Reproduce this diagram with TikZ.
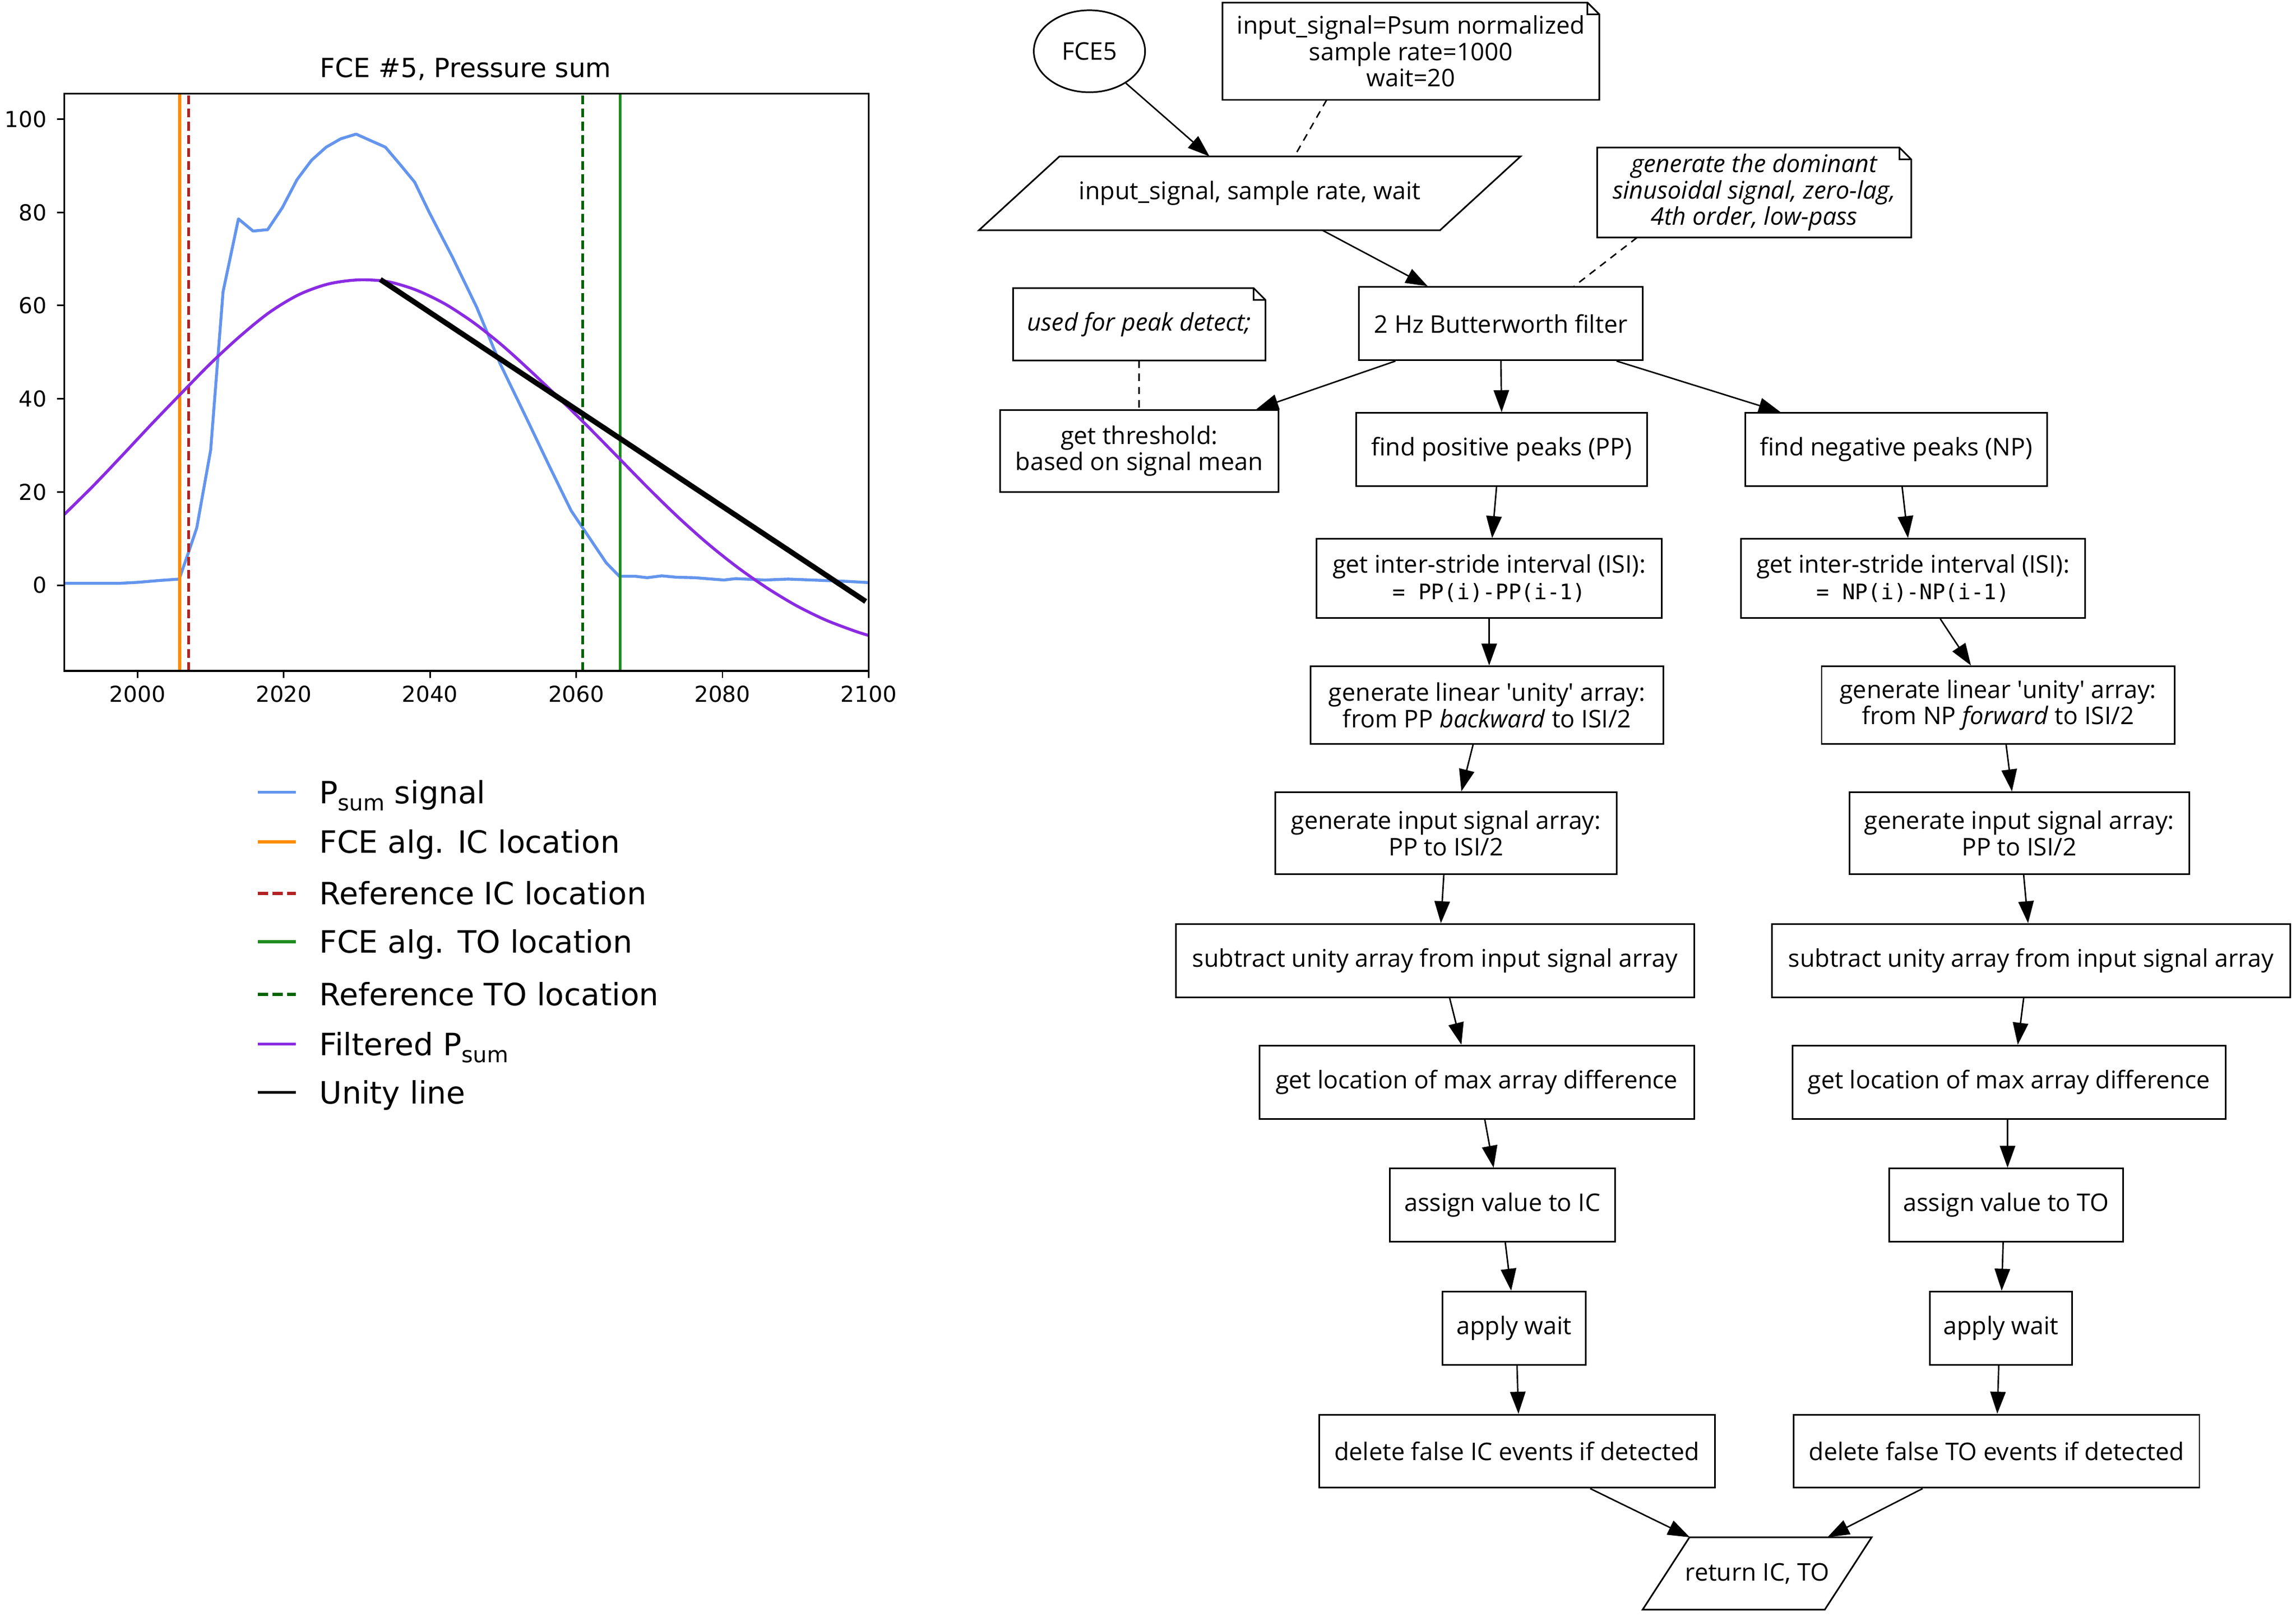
\documentclass[tikz,border=0pt]{standalone}
\usepackage{fontspec}
\setmainfont{Open Sans}
\newfontfamily\plotfont{DejaVu Sans}
\newfontfamily\monofnt{DejaVu Sans Mono}
\usetikzlibrary{arrows.meta,shapes.geometric,calc}
\definecolor{psumblue}{HTML}{6495ED}
\definecolor{icorange}{HTML}{FF8C00}
\definecolor{icred}{HTML}{B22222}
\definecolor{togreen}{HTML}{1E8C1E}
\definecolor{todkgreen}{HTML}{006400}
\definecolor{filtpurple}{HTML}{8A2BE2}
\newcommand\fsz{\fontsize{16.6}{18}\selectfont}
\newcommand\monotxt[1]{{\fontsize{14.6}{18}\selectfont\monofnt #1}}
\newcommand\mynote[1]{%
  \draw[line width=1.1pt,line join=miter] (#1.south west) -- (#1.south east) -- ([yshift=-8pt]#1.north east) -- ([xshift=-8pt]#1.north east) -- (#1.north west) -- cycle;
  \draw[line width=1.1pt] ([xshift=-8pt]#1.north east) |- ([yshift=-8pt]#1.north east);}
\newcommand\mypara[2]{%
  \draw[line width=1.1pt,line join=miter] ([xshift=-#2]#1.south west) -- ([xshift=-#2]#1.south east) -- ([xshift=#2]#1.north east) -- ([xshift=#2]#1.north west) -- cycle;}
\newcommand\psub{P\raisebox{-5pt}{\fontsize{15}{15}\selectfont sum}}
\begin{document}
\begin{tikzpicture}[x=1pt,y=-1pt,
  fbox/.style={draw, line width=1.1pt, rectangle, inner sep=2pt, align=center, font=\fsz, minimum height=50pt},
  fnote/.style={draw=none, rectangle, inner sep=2pt, align=center, font=\fsz},
  flow/.style={line width=1pt, -{Triangle[length=15pt,width=10.5pt]}},
  dlink/.style={line width=1pt, dash pattern=on 5pt off 4pt},
  legtxt/.style={font=\plotfont\fontsize{21}{21}\selectfont, anchor=base west, inner sep=0pt},
  ticktxt/.style={font=\plotfont\fontsize{15}{15}\selectfont, inner sep=0pt},
  vdash/.style={dash pattern=on 6pt off 3pt}
]
\fill[white] (0,0) rectangle (1568,1104);
\useasboundingbox (0,0) rectangle (1568,1104);

% ---------------- plot ----------------
\node[font=\plotfont\fontsize{18}{18}\selectfont] (title) at (318,47) {FCE \#5, Pressure sum};
\begin{scope}[shift={(44,399.6)}, x=4.993pt, y=3.182pt, shift={(-1990,0)}]
  \begin{scope}
    \clip (1990,-18.4) rectangle (2100,105.5);
    \draw[psumblue, line width=2pt, line join=round] plot coordinates {
      (1990,0.4) (1997.6,0.4) (2000,0.6) (2003,1.0) (2005.7,1.3) (2006.9,6.7) (2008.1,12.3) (2010,29) (2011.7,63) (2013.8,78.6) (2015.8,76) (2017.8,76.3) (2019.8,81) (2021.8,87) (2023.8,91.2) (2025.8,94) (2027.8,95.8) (2029.9,96.8) (2031.9,95.4) (2033.9,94) (2035.9,90.3) (2037.9,86.5) (2039.9,80) (2043.1,70.3) (2046.4,59.6) (2049.6,47.5) (2053.3,35.5) (2056.4,25.3) (2059.3,16) (2061.7,10.4) (2064.1,4.8) (2065.9,1.9) (2068.1,1.9) (2069.7,1.6) (2071.7,2.0) (2073.7,1.7) (2076.2,1.6) (2080.2,1.1) (2081.8,1.4) (2085.8,1.1) (2089,1.3) (2092.3,1.1) (2097.1,0.8) (2100,0.55)};
    \draw[icorange, line width=2pt] (2005.75,-18.4) -- (2005.75,105.5);
    \draw[icred, line width=2pt, vdash] (2007,-18.4) -- (2007,105.5);
    \draw[todkgreen, line width=2pt, vdash] (2060.9,-18.4) -- (2060.9,105.5);
    \draw[togreen, line width=2pt] (2066,-18.4) -- (2066,105.5);
    \draw[filtpurple, line width=2pt] plot[smooth] coordinates {
      (1990,15.2) (1994,21.4) (1998,28) (2002,34.7) (2006,41.2) (2010,47.6) (2014,53.4) (2018,58.5) (2022,62.3) (2026,64.6) (2030,65.5) (2034,65.2) (2038,63.4) (2042,60.4) (2046,56.3) (2050,51.3) (2054,45.6) (2058,39.6) (2062,33.4) (2066,27.0) (2070,20.6) (2074,14.5) (2078,8.9) (2082,3.9) (2086,-0.5) (2090,-4.3) (2094,-7.4) (2098,-9.8) (2100,-10.8)};
    \draw[black, line width=3.6pt] (2033.2,65.6) -- (2099.6,-3.5);
  \end{scope}
  \draw[line width=1.2pt] (1990,-18.4) rectangle (2100,105.5);
  \foreach \t in {2000,2020,2040,2060,2080,2100} {
    \draw[line width=1.1pt] (\t,-18.4) -- ([yshift=-5pt]\t,-18.4);
    \node[ticktxt, anchor=north] at ([yshift=-10pt]\t,-18.4) {\t};
  }
  \foreach \v in {0,20,40,60,80,100} {
    \draw[line width=1.1pt] (1990,\v) -- ([xshift=-5pt]1990,\v);
    \node[ticktxt, anchor=east] at ([xshift=-12pt]1990,\v) {\v};
  }
\end{scope}

% ---------------- legend ----------------
\draw[psumblue, line width=2.2pt] (176,541) -- (202,541);
\node[legtxt] (l1) at (218,548.7) {\psub{} signal};
\draw[icorange, line width=2.2pt] (176,575) -- (202,575);
\node[legtxt] (l2) at (218,582.7) {FCE alg. IC location};
\draw[icred, line width=2.2pt, dash pattern=on 7pt off 3pt] (176,610) -- (202,610);
\node[legtxt] (l3) at (218,617.7) {Reference IC location};
\draw[togreen, line width=2.2pt] (176,643) -- (202,643);
\node[legtxt] (l4) at (218,650.7) {FCE alg. TO location};
\draw[todkgreen, line width=2.2pt, dash pattern=on 7pt off 3pt] (176,679) -- (202,679);
\node[legtxt] (l5) at (218,686.7) {Reference TO location};
\draw[filtpurple, line width=2.2pt] (176,713) -- (202,713);
\node[legtxt] (l6) at (218,720.7) {Filtered \psub};
\draw[black, line width=2.2pt] (176,746) -- (202,746);
\node[legtxt] (l7) at (218,753.7) {Unity line};

% ---------------- flowchart ----------------
\node[fbox, ellipse, minimum width=76pt, minimum height=56pt, inner sep=0pt] (fce) at (744,35) {FCE5};
\node[fnote, minimum width=257pt, minimum height=66pt] (n1) at (963.5,35) {input\_signal=Psum normalized\\sample rate=1000\\wait=20};
\node[fnote, minimum width=314.5pt, minimum height=50pt] (inp) at (853.5,132) {input\_signal, sample rate, wait};
\node[fnote, minimum width=214pt, minimum height=61pt, font=\fsz\itshape] (n2) at (1198,131.5) {generate the dominant\\sinusoidal signal, zero-lag,\\4th order, low-pass};
\node[fbox, minimum width=194pt] (bw) at (1025,221) {2 Hz Butterworth filter};
\node[fnote, minimum width=172pt, minimum height=49pt, font=\fsz\itshape] (n3) at (778,221.5) {used for peak detect;};
\node[fbox, minimum width=190pt, minimum height=56pt] (thr) at (778,308) {get threshold:\\based on signal mean};
\node[fbox, minimum width=199pt] (pp) at (1025.5,307) {find positive peaks (PP)};
\node[fbox, minimum width=206pt] (np) at (1295,307) {find negative peaks (NP)};
\node[fbox, minimum width=236pt, minimum height=54pt] (isiL) at (1017,395) {get inter-stride interval (ISI):\\\monotxt{= PP(i)-PP(i-1)}};
\node[fbox, minimum width=235pt, minimum height=54pt] (isiR) at (1306.5,395) {get inter-stride interval (ISI):\\\monotxt{= NP(i)-NP(i-1)}};
\node[fbox, minimum width=241pt, minimum height=53pt] (unL) at (1015.5,481.5) {generate linear \textquotesingle unity\textquotesingle{} array:\\from PP \textit{backward} to ISI/2};
\node[fbox, minimum width=241pt, minimum height=53pt] (unR) at (1364.5,481.5) {generate linear \textquotesingle unity\textquotesingle{} array:\\from NP \textit{forward} to ISI/2};
\node[fbox, minimum width=233pt, minimum height=56pt] (sigL) at (987.5,569) {generate input signal array:\\PP to ISI/2};
\node[fbox, minimum width=232pt, minimum height=56pt] (sigR) at (1379,569) {generate input signal array:\\PP to ISI/2};
\node[fbox, minimum width=354pt] (subL) at (980,656) {subtract unity array from input signal array};
\node[fbox, minimum width=354pt] (subR) at (1387,656) {subtract unity array from input signal array};
\node[fbox, minimum width=297pt] (maxL) at (1008.5,739) {get location of max array difference};
\node[fbox, minimum width=296pt] (maxR) at (1372,739) {get location of max array difference};
\node[fbox, minimum width=154pt] (asL) at (1026,823) {assign value to IC};
\node[fbox, minimum width=160pt] (asR) at (1370,823) {assign value to TO};
\node[fbox, minimum width=98pt] (waL) at (1034,907) {apply wait};
\node[fbox, minimum width=97pt] (waR) at (1366.5,907) {apply wait};
\node[fbox, minimum width=270pt] (delL) at (1036,991) {delete false IC events if detected};
\node[fbox, minimum width=277pt] (delR) at (1363.5,991) {delete false TO events if detected};
\node[fnote, minimum width=124pt, minimum height=49pt] (ret) at (1200,1074.5) {return IC, TO};

\mynote{n1}
\mynote{n2}
\mynote{n3}
\mypara{inp}{27.5pt}
\mypara{ret}{16pt}

% connectors
\draw[flow] (fce) -- ([xshift=-27.5pt]inp.north);
\draw[dlink] ([xshift=-57.5pt]n1.south) -- ([xshift=30.5pt]inp.north);
\draw[flow] ([xshift=49.5pt]inp.south) -- ([xshift=-50pt]bw.north);
\draw[dlink] ([xshift=-80pt]n2.south) -- ([xshift=50pt]bw.north);
\draw[flow] ([xshift=-72pt]bw.south) -- ([xshift=80pt]thr.north);
\draw[flow] (bw.south) -- (pp.north);
\draw[flow] ([xshift=79pt]bw.south) -- ([xshift=-79pt]np.north);
\draw[dlink] (n3.south) -- (thr.north);
\draw[flow] ([xshift=-3.5pt]pp.south) -- ([xshift=2pt]isiL.north);
\draw[flow] ([xshift=4pt]np.south) -- ([xshift=-3.5pt]isiR.north);
\draw[flow] (isiL.south) -- ([xshift=1.5pt]unL.north);
\draw[flow] ([xshift=18.5pt]isiR.south) -- ([xshift=-18.5pt]unR.north);
\draw[flow] ([xshift=-9.5pt]unL.south) -- ([xshift=10.5pt]sigL.north);
\draw[flow] ([xshift=5.5pt]unR.south) -- ([xshift=-5pt]sigR.north);
\draw[flow] ([xshift=-1.5pt]sigL.south) -- ([xshift=4pt]subL.north);
\draw[flow] ([xshift=3pt]sigR.south) -- ([xshift=-2pt]subR.north);
\draw[flow] ([xshift=10pt]subL.south) -- ([xshift=-10.5pt]maxL.north);
\draw[flow] ([xshift=-5pt]subR.south) -- ([xshift=6pt]maxR.north);
\draw[flow] ([xshift=5.5pt]maxL.south) -- ([xshift=-6pt]asL.north);
\draw[flow] ([xshift=-1pt]maxR.south) -- ([xshift=1pt]asR.north);
\draw[flow] ([xshift=2pt]asL.south) -- ([xshift=-2pt]waL.north);
\draw[flow] ([xshift=-2pt]asR.south) -- ([xshift=0.5pt]waR.north);
\draw[flow] ([xshift=2pt]waL.south) -- ([xshift=1pt]delL.north);
\draw[flow] ([xshift=-1.5pt]waR.south) -- ([xshift=0.5pt]delR.north);
\draw[flow] ([xshift=50pt]delL.south) -- ([xshift=-46pt]ret.north);
\draw[flow] ([xshift=-50.5pt]delR.south) -- ([xshift=48pt]ret.north);
\end{tikzpicture}
\end{document}
